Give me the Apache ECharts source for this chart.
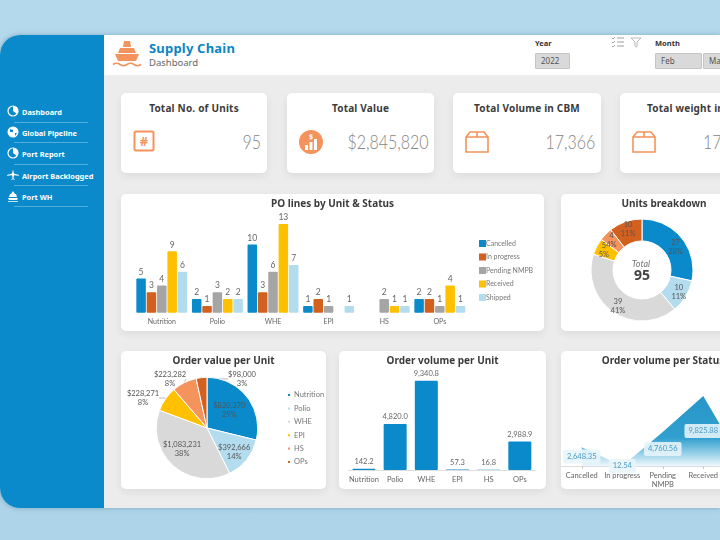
<!DOCTYPE html>
<html>
<head>
<meta charset="UTF-8">
<title>Supply Chain Dashboard</title>
<style type="text/css">
html, body {
	margin: 0;
	width: 720px;
	height: 540px;
	overflow: hidden;
	background: linear-gradient(#b5d9ec, #aed4e9);
	font-family: "Noto Sans", sans-serif;
}
#panel {
	position: absolute;
	left: 0;
	top: 35px;
	width: 720px;
	height: 473px;
	background: #ececec;
	border-radius: 20px 0 0 20px;
	overflow: hidden;
	box-shadow: 0 0 5px rgba(60, 110, 140, 0.45);
}
#side {
	position: absolute;
	left: 0;
	top: 0;
	width: 104px;
	height: 473px;
	background: #0a8aca;
}
#head {
	position: absolute;
	left: 104px;
	top: 0;
	width: 616px;
	height: 40px;
	background: #fff;
}
.abs {
	position: absolute;
	white-space: nowrap;
}
.nav {
	position: absolute;
	left: 22px;
	color: #fff;
	font-size: 7.4px;
	font-weight: bold;
	line-height: 10px;
	white-space: nowrap;
}
.rule {
	position: absolute;
	left: 14px;
	width: 74px;
	height: 1px;
	background: rgba(255, 255, 255, 0.3);
}
.card {
	position: absolute;
	background: #fff;
	border-radius: 5px;
	box-shadow: 0 3px 8px rgba(0, 0, 0, 0.07);
}
.kpi_title {
	position: absolute;
	left: 0;
	right: 0;
	top: 8px;
	text-align: center;
	font-size: 10px;
	font-weight: bold;
	color: #3c3c3c;
	letter-spacing: 0.2px;
	white-space: nowrap;
}
.kpi_value {
	position: absolute;
	right: 6px;
	top: 37px;
	font-family: Lato, sans-serif;
	font-weight: 300;
	font-size: 19px;
	color: #858585;
	white-space: nowrap;
	transform: scaleX(0.84);
	transform-origin: right center;
}
.kpi_icon {
	position: absolute;
	left: 12px;
	top: 37px;
}
.slicer {
	position: absolute;
	background: #d9d9d9;
	border: 1px solid #c4c4c4;
	border-radius: 1px;
	color: #555;
	font-size: 8px;
	line-height: 14px;
	height: 14px;
	padding-left: 5px;
	box-sizing: content-box;
}
.chart {
	position: absolute;
	left: 0;
	top: 0;
}
</style>
</head>
<body>
	<div id="panel">
		<!-- left menu -->
		<div id="side">
			<svg class="abs" style="left:7px;top:70px" width="12" height="12" viewBox="0 0 12 12"><circle cx="6" cy="6" r="5" fill="none" stroke="#fff" stroke-width="1.2"/><path d="M6 6V1a5 5 0 0 1 4 8z" fill="#fff"/></svg>
			<div class="nav" style="top:72px">Dashboard</div>
			<div class="rule" style="top:87px"></div>
			<svg class="abs" style="left:7px;top:91px" width="12" height="12" viewBox="0 0 12 12"><circle cx="6" cy="6" r="5.5" fill="#fff"/><path d="M3 3l3 1 0 2-3 0zM8 7l2 0-2 3z" fill="#0a8aca"/></svg>
			<div class="nav" style="top:93px">Global Pipeline</div>
			<div class="rule" style="top:107px"></div>
			<svg class="abs" style="left:7px;top:112px" width="12" height="12" viewBox="0 0 12 12"><circle cx="6" cy="6" r="5" fill="none" stroke="#fff" stroke-width="1.2"/><path d="M6 6V1a5 5 0 0 1 4 8z" fill="#fff"/></svg>
			<div class="nav" style="top:114px">Port Report</div>
			<div class="rule" style="top:129px"></div>
			<svg class="abs" style="left:7px;top:134px" width="12" height="12" viewBox="0 0 12 12"><path d="M6 0.5l1 4 5 1.5 0 0.8-5-0.6-0.6 3 1.4 1 0 .6-1.800-.6-1.800.6 0-.6 1.400-1-.6-3-5 .6 0-.8 5-1.500z" fill="#fff"/></svg>
			<div class="nav" style="top:136px">Airport Backlogged</div>
			<div class="rule" style="top:150px"></div>
			<svg class="abs" style="left:7px;top:155px" width="12" height="12" viewBox="0 0 12 12"><path d="M6 1l2 3h1l1 3H2l1-3h1zM1 8h10l-1 2H2zM1 11h10v.8H1z" fill="#fff"/></svg>
			<div class="nav" style="top:157px">Port WH</div>
			<div class="rule" style="top:171px"></div>
		</div>
		<!-- top header -->
		<div id="head">
			<svg class="abs" style="left:8px;top:5px" width="30" height="28" viewBox="0 0 30 28"><path d="M12 1h6l1 6h-8zM8 8h14l2 5H6zM3 14h24l-3 7H6z" fill="#f4935c"/><path d="M1 24.500q3.500-2.500 7 0t7 0 7 0 7 0" fill="none" stroke="#f4935c" stroke-width="1.600"/></svg>
			<div class="abs" style="left:45px;top:4px;font-size:13px;font-weight:bold;color:#0a86c2;letter-spacing:0.2px">Supply Chain</div>
			<div class="abs" style="left:45px;top:21px;font-size:9.5px;color:#666">Dashboard</div>
			<div class="abs" style="left:431px;top:3px;font-size:7.5px;font-weight:bold;color:#333">Year</div>
			<div class="slicer" style="left:431px;top:18px;width:28px">2022</div>
			<svg class="abs" style="left:508px;top:2px" width="12" height="10" viewBox="0 0 12 10"><path d="M0 1l1 1 2-2M0 5l1 1 2-2M0 9l1 1 2-2M5 1h7M5 5h7M5 9h7" fill="none" stroke="#888" stroke-width="0.8"/></svg>
			<svg class="abs" style="left:526px;top:2px" width="12" height="11" viewBox="0 0 12 11"><path d="M1 1h10L7 5v5L5 9V5z" fill="none" stroke="#aaa" stroke-width="0.8"/></svg>
			<div class="abs" style="left:551px;top:3px;font-size:7.5px;font-weight:bold;color:#333">Month</div>
			<div class="slicer" style="left:551px;top:18px;width:40px">Feb</div>
			<div class="slicer" style="left:599px;top:18px;width:40px">Mar</div>
		</div>

		<!-- KPI cards -->
		<div class="card" style="left:121px;top:58px;width:146px;height:80px">
			<div class="kpi_title">Total No. of Units</div>
			<svg class="kpi_icon" width="22" height="22" viewBox="0 0 22 22"><rect x="1.500" y="1.500" width="19" height="19" rx="1.500" fill="none" stroke="#f4935c" stroke-width="2"/><text x="11" y="16" text-anchor="middle" font-size="13" font-weight="bold" fill="#f4935c">#</text></svg>
			<div class="kpi_value">95</div>
		</div>
		<div class="card" style="left:287px;top:58px;width:147px;height:80px">
			<div class="kpi_title">Total Value</div>
			<svg class="kpi_icon" width="24" height="24" viewBox="0 0 24 24"><circle cx="12" cy="12" r="12" fill="#f4935c"/><path d="M6 15h3v5H6zM10.500 12h3v8h-3zM15 9h3v11h-3z" fill="#fff"/><text x="12" y="9" text-anchor="middle" font-size="7" font-weight="bold" fill="#fff">$</text></svg>
			<div class="kpi_value">$2,845,820</div>
		</div>
		<div class="card" style="left:453px;top:58px;width:148px;height:80px">
			<div class="kpi_title">Total Volume in CBM</div>
			<svg class="kpi_icon" width="24" height="24" viewBox="0 0 24 24"><path d="M1 7l4-5h14l4 5v15H1zM1 7h22M12 2v5" fill="none" stroke="#f4935c" stroke-width="1.600"/></svg>
			<div class="kpi_value">17,366</div>
		</div>
		<div class="card" style="left:620px;top:58px;width:148px;height:80px">
			<div class="kpi_title">Total weight in KG</div>
			<svg class="kpi_icon" width="24" height="24" viewBox="0 0 24 24"><path d="M1 7l4-5h14l4 5v15H1zM1 7h22M12 2v5" fill="none" stroke="#f4935c" stroke-width="1.600"/></svg>
			<div class="kpi_value" style="right:auto;left:83px;transform-origin:left center">17,366</div>
		</div>

		<!-- chart cards -->
		<div class="card" style="left:121px;top:159px;width:423px;height:137px"><div class="chart" id="po_lines" style="width:423px;height:137px"></div></div>
		<div class="card" style="left:561px;top:159px;width:206px;height:137px"><div class="chart" id="units_breakdown" style="width:206px;height:137px"></div></div>
		<div class="card" style="left:121px;top:316px;width:205px;height:138px"><div class="chart" id="order_value" style="width:205px;height:138px"></div></div>
		<div class="card" style="left:339px;top:316px;width:207px;height:138px"><div class="chart" id="order_volume" style="width:207px;height:138px"></div></div>
		<div class="card" style="left:561px;top:316px;width:204px;height:138px"><div class="chart" id="status_volume" style="width:204px;height:138px"></div></div>
	</div>
<script type="text/javascript" src="https://cdn.jsdelivr.net/npm/echarts@6/dist/echarts.min.js"></script>
<script type="text/javascript">
	// data
	var units = [ "Nutrition", "Polio", "WHE", "EPI", "HS", "OPs" ];
	var statuses = [ "Cancelled", "In progress", "Pending NMPB", "Received", "Shipped" ];
	var cancelled = [ 5, 2, 10, 1, null, 2 ];
	var inProgress = [ 3, 1, 3, 2, null, 2 ];
	var pending = [ 4, 3, 6, 1, 2, 1 ];
	var received = [ 9, 2, 13, null, 1, 4 ];
	var shipped = [ 6, 2, 7, 1, 1, 1 ];
	var breakdownValues = [ 27, 10, 39, 5, 4, 10 ];
	var orderValues = [ 820370, 392666, 1083231, 228271, 223282, 98000 ];
	var orderVolumes = [ 142.2, 4820.0, 9340.8, 57.3, 16.8, 2988.9 ];
	var statusLabels = [ "Cancelled", "In progress", "Pending\nNMPB", "Received", "Shipped" ];
	var statusVolumes = [ 2648.35, 12.54, 4760.56, 9825.88, 118.67 ];

	var BLUE = "#0a8aca";
	var DARK_ORANGE = "#d2601f";
	var GRAY = "#a5a5a5";
	var YELLOW = "#ffc000";
	var LIGHT_BLUE = "#b4dcef";
	var LIGHT_GRAY = "#d9d9d9";
	var ORANGE = "#f4935c";
	var TITLE_FONT = "Noto Sans";
	var LABEL_FONT = "Lato";

	function cardTitle(text) {
		return {
			text : text,
			left : "center",
			top : 0,
			textStyle : {
				fontFamily : TITLE_FONT,
				fontSize : 10,
				fontWeight : "bold",
				color : "#3c3c3c"
			}
		};
	}

	function statusSeries(name, data, color) {
		return {
			name : name,
			type : "bar",
			data : data,
			barWidth : 9.5,
			barGap : "9%",
			itemStyle : {
				color : color,
				borderRadius : 1
			},
			label : {
				show : true,
				position : "top",
				distance : 2,
				fontFamily : LABEL_FONT,
				fontSize : 8.5,
				color : "#666"
			}
		};
	}

	// PO lines by Unit & Status
	var poChart = echarts.init(document.getElementById("po_lines"));
	poChart.setOption({
		animation : false,
		title : cardTitle("PO lines by Unit & Status"),
		legend : {
			orient : "vertical",
			left : 358,
			top : 46,
			padding : 0,
			icon : "rect",
			itemWidth : 7,
			itemHeight : 7,
			itemGap : 6.5,
			textStyle : {
				fontFamily : LABEL_FONT,
				fontSize : 7,
				color : "#777",
				padding : [ 0, 0, 0, -5 ]
			}
		},
		grid : {
			left : 13,
			top : 23.2,
			width : 333.6,
			height : 95.5
		},
		xAxis : {
			type : "category",
			data : units,
			axisLine : { show : false },
			axisTick : { show : false },
			axisLabel : {
				fontFamily : LABEL_FONT,
				fontSize : 7,
				color : "#666",
				margin : 6
			}
		},
		yAxis : {
			type : "value",
			min : 0,
			max : 14,
			show : false
		},
		series : [
			statusSeries(statuses[0], cancelled, BLUE),
			statusSeries(statuses[1], inProgress, DARK_ORANGE),
			statusSeries(statuses[2], pending, GRAY),
			statusSeries(statuses[3], received, YELLOW),
			statusSeries(statuses[4], shipped, LIGHT_BLUE)
		]
	});

	// Units breakdown donut
	var donutColors = [ BLUE, LIGHT_BLUE, LIGHT_GRAY, YELLOW, ORANGE, DARK_ORANGE ];
	var donutData = [];
	for ( var i in units) {
		donutData.push({
			name : units[i],
			value : breakdownValues[i]
		});
	}
	var donutChart = echarts.init(document.getElementById("units_breakdown"));
	donutChart.setOption({
		animation : false,
		title : cardTitle("Units breakdown"),
		color : donutColors,
		graphic : [ {
			type : "text",
			x : 80,
			y : 70,
			style : {
				text : "Total",
				align : "center",
				verticalAlign : "middle",
				fontFamily : LABEL_FONT,
				fontStyle : "italic",
				fontSize : 9,
				fill : "#777"
			}
		}, {
			type : "text",
			x : 81,
			y : 82,
			style : {
				text : "95",
				align : "center",
				verticalAlign : "middle",
				fontFamily : TITLE_FONT,
				fontWeight : "bold",
				fontSize : 14,
				fill : "#444"
			}
		} ],
		series : [ {
			type : "pie",
			radius : [ 29, 51 ],
			center : [ 81, 76 ],
			percentPrecision : 0,
			data : donutData,
			itemStyle : {
				borderColor : "#fff",
				borderWidth : 1
			},
			label : {
				position : "inside",
				formatter : "{c}\n{d}%",
				fontFamily : LABEL_FONT,
				fontSize : 7.5,
				lineHeight : 9,
				color : "#555"
			},
			labelLayout : function(p) {
				return p.dataIndex == 0 ? { dy : 4 } : {};
			}
		} ]
	});

	// Order value pie, the three small slices get labels outside
	var pieColors = [ BLUE, LIGHT_BLUE, LIGHT_GRAY, YELLOW, ORANGE, DARK_ORANGE ];
	var pieLabelMoves = [ {}, { dx : 5, dy : 6 }, { dx : -6 },
		{ x : 22, y : 47, align : "center", verticalAlign : "middle" },
		{ x : 49, y : 28, align : "center", verticalAlign : "middle" },
		{ x : 121, y : 28, align : "center", verticalAlign : "middle" } ];
	var pieData = [];
	for ( var i in units) {
		var obj = {
			name : units[i],
			value : orderValues[i]
		};
		if (i >= 3) {
			obj.label = {
				position : "outside"
			};
		}
		pieData.push(obj);
	}
	var pieChart = echarts.init(document.getElementById("order_value"));
	pieChart.setOption({
		animation : false,
		title : cardTitle("Order value per Unit"),
		color : pieColors,
		legend : {
			orient : "vertical",
			left : 165,
			top : 40,
			padding : 0,
			icon : "rect",
			itemWidth : 4,
			itemHeight : 4,
			itemGap : 5.4,
			textStyle : {
				fontFamily : LABEL_FONT,
				fontSize : 7.5,
				color : "#777",
				padding : [ 0, 0, 0, -2 ]
			}
		},
		series : [ {
			type : "pie",
			radius : 50.7,
			center : [ 86, 77 ],
			percentPrecision : 0,
			avoidLabelOverlap : false,
			data : pieData,
			itemStyle : {
				borderColor : "#fff",
				borderWidth : 1
			},
			label : {
				position : "inside",
				formatter : function(p) {
					return "$" + p.value.toLocaleString("en-US") + "\n" + p.percent + "%";
				},
				fontFamily : LABEL_FONT,
				fontSize : 7.5,
				lineHeight : 9,
				color : "#555"
			},
			labelLine : {
				length : 5,
				length2 : 7,
				lineStyle : { color : "#bbb" }
			},
			labelLayout : function(p) {
				return pieLabelMoves[p.dataIndex];
			}
		} ]
	});

	// Order volume per Unit
	var volumeChart = echarts.init(document.getElementById("order_volume"));
	volumeChart.setOption({
		animation : false,
		title : cardTitle("Order volume per Unit"),
		grid : {
			left : 9.4,
			top : 23.4,
			width : 187,
			height : 95.6
		},
		xAxis : {
			type : "category",
			data : units,
			axisLine : { lineStyle : { color : "#ddd" } },
			axisTick : { show : false },
			axisLabel : {
				fontFamily : LABEL_FONT,
				fontSize : 7.5,
				color : "#666",
				margin : 6,
				interval : 0
			}
		},
		yAxis : {
			type : "value",
			min : 0,
			max : 10000,
			show : false
		},
		series : [ {
			type : "bar",
			data : orderVolumes,
			barWidth : 23,
			itemStyle : {
				color : BLUE,
				borderRadius : 1
			},
			label : {
				show : true,
				position : "top",
				distance : 3,
				fontFamily : LABEL_FONT,
				fontSize : 7.5,
				color : "#666",
				formatter : function(p) {
					return p.value.toLocaleString("en-US", {
						minimumFractionDigits : 1,
						maximumFractionDigits : 1
					});
				}
			}
		} ]
	});

	// Order volume per Status, invisible bars only carry the labels mid-height
	var statusChart = echarts.init(document.getElementById("status_volume"));
	statusChart.setOption({
		animation : false,
		title : cardTitle("Order volume per Status"),
		grid : {
			left : 0.5,
			top : 43.8,
			width : 202.5,
			height : 71.2
		},
		xAxis : {
			type : "category",
			data : statusLabels,
			axisLine : { lineStyle : { color : "#ddd" } },
			axisTick : { show : true, alignWithLabel : true, lineStyle : { color : "#ccc" }, length : 3 },
			axisLabel : {
				fontFamily : LABEL_FONT,
				fontSize : 7.5,
				lineHeight : 9,
				color : "#666",
				margin : 5,
				interval : 0
			}
		},
		yAxis : {
			type : "value",
			min : 0,
			max : 10000,
			show : false
		},
		series : [ {
			type : "line",
			z : 2,
			data : statusVolumes,
			symbol : "none",
			lineStyle : { width : 0 },
			areaStyle : {
				opacity : 1,
				color : new echarts.graphic.LinearGradient(0, 0, 0, 1, [
					{ offset : 0, color : "#2596c9" },
					{ offset : 0.6, color : "#31a0cf" },
					{ offset : 0.8, color : "#8ccbe6" },
					{ offset : 1, color : "#eef8fc" }
				])
			}
		}, {
			type : "bar",
			z : 5,
			data : statusVolumes,
			barWidth : 20,
			itemStyle : { color : "rgba(0,0,0,0)" },
			label : {
				show : true,
				position : "inside",
				fontFamily : LABEL_FONT,
				fontSize : 7.5,
				color : "#4a9cc4",
				backgroundColor : "rgba(232,245,251,0.88)",
				borderRadius : 2,
				padding : [ 3, 4 ],
				formatter : function(p) {
					return p.value.toLocaleString("en-US", {
						minimumFractionDigits : 2,
						maximumFractionDigits : 2
					});
				}
			}
		} ]
	});
</script>
</body>
</html>
